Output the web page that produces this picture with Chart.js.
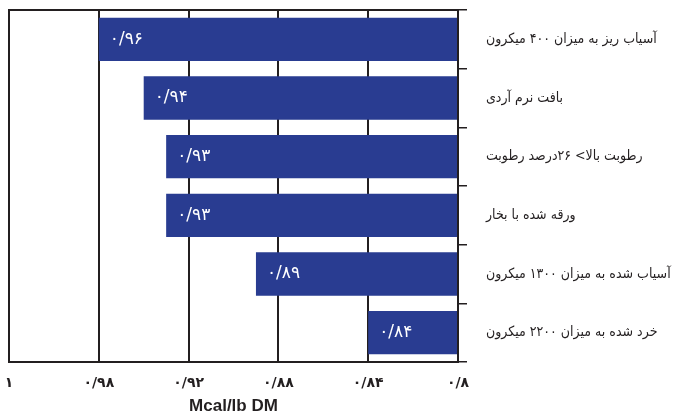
<!DOCTYPE html>
<html>
<head>
<meta charset="utf-8">
<script src="https://cdn.jsdelivr.net/npm/chart.js@4/dist/chart.umd.min.js"></script>
<style>
  html, body { margin: 0; padding: 0; background: #fff; }
  #wrap { width: 674px; height: 415px; }
</style>
</head>
<body>
<div id="wrap"><canvas id="c" width="674" height="415"></canvas></div>
<script>
const categories = [
  'آسیاب ریز به میزان ۴۰۰ میکرون',
  'بافت نرم آردی',
  'رطوبت بالا> ۲۶درصد رطوبت',
  'ورقه شده با بخار',
  'آسیاب شده به میزان ۱۳۰۰ میکرون',
  'خرد شده به میزان ۲۲۰۰ میکرون'
];
const values = [0.96, 0.94, 0.93, 0.93, 0.89, 0.84];
const tickValues = [1, 0.96, 0.92, 0.88, 0.84, 0.8];
const tickLabels = ['۱', '۰/۹۸', '۰/۹۲', '۰/۸۸', '۰/۸۴', '۰/۸'];
const axisTitle = 'Mcal/lb DM';

const faDigits = '۰۱۲۳۴۵۶۷۸۹';
function toFa(v) {
  return String(v).replace('.', '/').replace(/\d/g, d => faDigits[d]);
}

const ink = '#231f20';
const barColor = '#293c91';

const valueLabels = {
  id: 'valueLabels',
  afterDatasetsDraw(chart) {
    const ctx = chart.ctx;
    const meta = chart.getDatasetMeta(0);
    ctx.save();
    ctx.fillStyle = '#ffffff';
    ctx.font = '17px "DejaVu Sans"';
    ctx.textAlign = 'left';
    ctx.textBaseline = 'middle';
    meta.data.forEach((bar, i) => {
      ctx.fillText(toFa(values[i]), bar.x + 11, bar.y);
    });
    ctx.restore();
  }
};

const topBorder = {
  id: 'topBorder',
  afterDraw(chart) {
    const {ctx, chartArea} = chart;
    ctx.save();
    ctx.strokeStyle = ink;
    ctx.lineWidth = 2;
    ctx.beginPath();
    ctx.moveTo(chartArea.left - 1, chartArea.top);
    ctx.lineTo(chartArea.right + 1, chartArea.top);
    ctx.stroke();
    ctx.restore();
  }
};

new Chart(document.getElementById('c'), {
  type: 'bar',
  data: {
    labels: categories,
    datasets: [{
      data: values,
      base: 0.8,
      backgroundColor: barColor,
      borderWidth: 0,
      barPercentage: 0.74,
      categoryPercentage: 1
    }]
  },
  options: {
    indexAxis: 'y',
    responsive: false,
    animation: false,
    devicePixelRatio: 1,
    layout: { padding: { left: 9, top: 10, right: 0, bottom: 0 } },
    plugins: { legend: { display: false }, tooltip: { enabled: false } },
    scales: {
      x: {
        type: 'linear',
        reverse: true,
        min: 0.8,
        max: 1,
        afterBuildTicks(scale) {
          scale.ticks = tickValues.map(v => ({ value: v }));
        },
        afterFit(scale) {
          scale.height = 53;
          scale.paddingLeft = 0;
          scale.paddingRight = 0;
        },
        grid: { color: ink, lineWidth: 2, drawTicks: false },
        border: { color: ink, width: 2 },
        ticks: {
          padding: 13,
          color: ink,
          font: { family: 'DejaVu Sans', size: 14, weight: 'bold' },
          maxRotation: 0,
          autoSkip: false,
          callback(value) {
            const i = tickValues.findIndex(t => Math.abs(t - value) < 1e-6);
            return i >= 0 ? tickLabels[i] : '';
          }
        },
        title: {
          display: true,
          text: axisTitle,
          color: ink,
          font: { family: 'Liberation Sans', size: 17, weight: 'bold', lineHeight: 1 },
          padding: { top: 0, bottom: 0 }
        }
      },
      y: {
        position: 'right',
        afterFit(scale) {
          scale.width = 216;
          scale.paddingTop = 0;
          scale.paddingBottom = 0;
        },
        grid: { drawOnChartArea: false, color: ink, lineWidth: 1.5, tickLength: 9, offset: true },
        border: { color: ink, width: 2 },
        ticks: {
          padding: 19,
          color: ink,
          font: { family: 'DejaVu Sans Condensed', size: 14 }
        }
      }
    }
  },
  plugins: [valueLabels, topBorder]
});
</script>
</body>
</html>
